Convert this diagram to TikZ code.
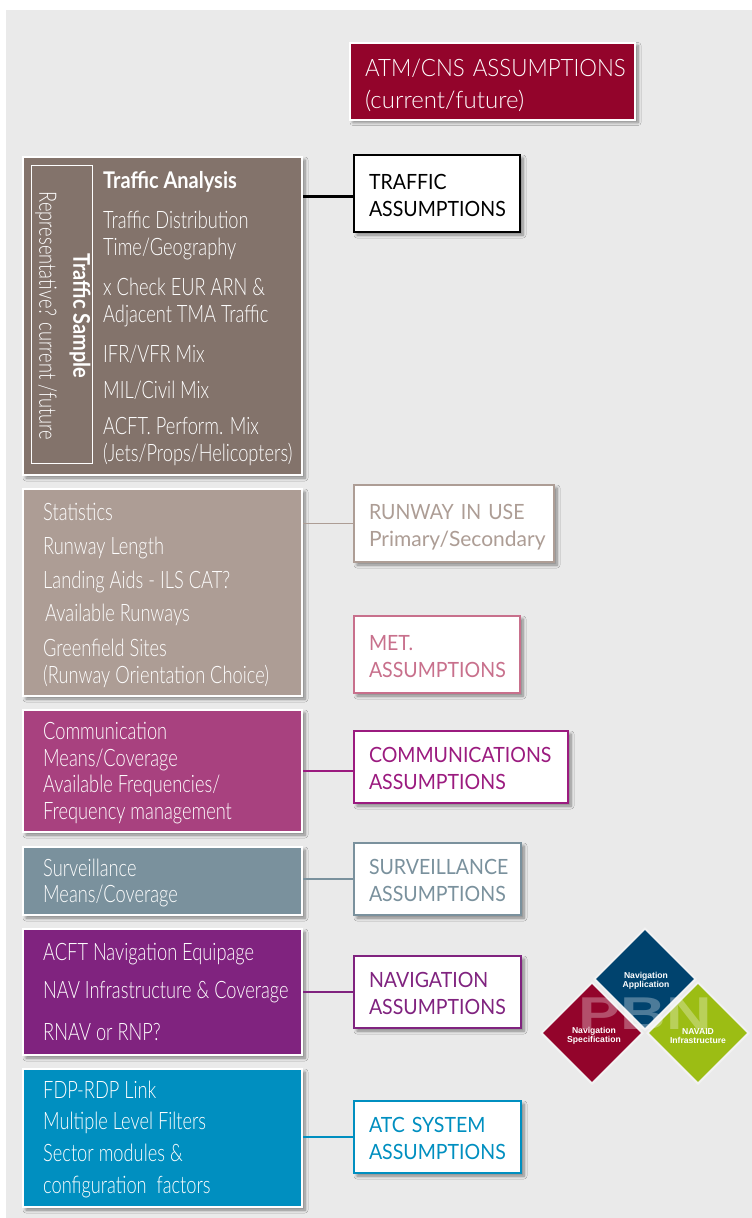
\documentclass[tikz,border=0pt]{standalone}
\usepackage{fontspec}
\setmainfont{Lato}
\newfontfamily\condfont[FakeStretch=0.76]{Lato Light}
\newfontfamily\boldfont[FakeStretch=0.87]{Lato}
\newfontfamily\boxfont[FakeStretch=0.93,WordSpace=0.7]{Lato}
\newfontfamily\headfont[FakeStretch=0.93,WordSpace=0.8]{Lato Light}
\newfontfamily\lowerfont{Lato}
\newfontfamily\lightfont{Lato Light}
\newfontfamily\labelfont{Liberation Sans}
\usetikzlibrary{shapes.geometric,shadows.blur}
\hyphenpenalty=10000
\definecolor{atmred}{HTML}{93042B}
\definecolor{brownbox}{HTML}{83736B}
\definecolor{sandbox}{HTML}{AD9D95}
\definecolor{metpink}{HTML}{C8708C}
\definecolor{commpink}{HTML}{A8417F}
\definecolor{commline}{HTML}{9B1B7F}
\definecolor{survgray}{HTML}{7A919D}
\definecolor{navpurple}{HTML}{80237F}
\definecolor{atcblue}{HTML}{008FC0}
\definecolor{appblue}{HTML}{00436E}
\definecolor{infragreen}{HTML}{9CBD14}
\definecolor{pagegray}{HTML}{EAEAEA}
\tikzset{
  softshadow/.style={blur shadow={shadow xshift=3pt,shadow yshift=-3pt,shadow blur steps=6,shadow opacity=45,shadow blur radius=3pt}},
  areabox/.style={rectangle,draw=white,line width=2pt,fill=#1,anchor=north west,inner sep=0pt,softshadow},
  assumbox/.style={rectangle,draw=#1,text=#1,line width=2pt,fill=white,anchor=north west,inner xsep=15pt,inner ysep=0pt,align=left,softshadow,
    text height=18pt,text depth=27pt,font={\boxfont\fontsize{21}{27}\selectfont}},
  linetext/.style={anchor=base west,inner sep=0pt,text=white,font={\condfont\fontsize{24}{27}\selectfont}},
  headtext/.style={anchor=base west,inner sep=0pt,text=white,font={\boldfont\bfseries\fontsize{23}{27}\selectfont}},
  link/.style={line width=1.8pt},
  rhomb/.style={diamond,aspect=1,inner sep=0pt,minimum width=102pt,minimum height=102pt,draw=white!90!gray,line width=2pt,fill=#1},
  rhombtext/.style={align=center,inner sep=0pt,text=white,font={\labelfont\bfseries\fontsize{8.6}{9.5}\selectfont}},
}
\begin{document}
\begin{tikzpicture}[x=1pt,y=-1pt]
  \useasboundingbox (0,0) rectangle (752,1218);
  \fill[white] (0,0) rectangle (752,1218);
  \fill[pagegray] (6,10) rectangle (752,1218);

  \node[areabox=atmred,minimum height=77pt,text=white,inner xsep=15pt,align=left,text width=255pt,
    text height=22pt,text depth=32pt,font={\headfont\fontsize{24}{32}\selectfont}] (atm) at (349,41.5)
    {ATM/CNS~ASSUMPTIONS\\{\lightfont (current/future)}};

  % left column
  \node[areabox=brownbox,minimum width=279pt,minimum height=318pt] (traffic) at (22,156) {};
  \node[areabox=sandbox,minimum width=279pt,minimum height=207pt] (runway) at (22,488) {};
  \node[areabox=commpink,minimum width=279pt,minimum height=122pt] (comm) at (22,709) {};
  \node[areabox=survgray,minimum width=279pt,minimum height=68pt] (surv) at (22,846) {};
  \node[areabox=navpurple,minimum width=279pt,minimum height=126pt] (nav) at (22,928) {};
  \node[areabox=atcblue,minimum width=279pt,minimum height=138pt] (atc) at (22,1068) {};

  \draw[white,line width=.8pt] (31,165) rectangle (92,463);
  \node[headtext,anchor=center,rotate=-90] (sample) at (80,316) {Traffic Sample};
  \node[linetext,anchor=center,rotate=-90] (representative) at (46,316) {Representative? current /future};

  \node[headtext] (analysis) at (103,188) {Traffic Analysis};
  \foreach \y/\txt in {228/Traffic Distribution,255/{Time/Geography},295/x Check EUR ARN \&,322/Adjacent TMA Traffic,
      362/{IFR/VFR Mix},398/{MIL/Civil Mix},434/ACFT. Perform. Mix,461/{(Jets/Props/Helicopters)}}
    \node[linetext] (trafficline\y) at (103,\y) {\txt};

  \foreach \x/\y/\txt in {43/520/Statistics,43/554/Runway Length,43/588/Landing Aids - ILS CAT?,45/621/Available Runways,
      43/656/Greenfield Sites,43/683/(Runway Orientation Choice)}
    \node[linetext] (runwayline\y) at (\x,\y) {\txt};

  \foreach \y/\txt in {739/Communication,766/{Means/Coverage},792/{Available Frequencies/},819/Frequency management,
      876/Surveillance,902/{Means/Coverage},
      960/ACFT Navigation Equipage,998/NAV Infrastructure \& Coverage,1040/RNAV or RNP?,
      1098/FDP-RDP Link,1129/Multiple Level Filters,1161/Sector modules \&,1193/configuration\ \ factors}
    \node[linetext] (line\y) at (43,\y) {\txt};

  % right column
  \node[assumbox=black,text width=136pt,minimum height=77pt] (trafficas) at (353,154) {TRAFFIC\\ASSUMPTIONS};
  \node[assumbox=sandbox,text width=170pt,minimum height=77pt] (runwayas) at (353,484) {RUNWAY IN USE\\{\lowerfont Primary/Secondary}};
  \node[assumbox=metpink,text width=136pt,minimum height=77pt] (metas) at (353,615) {MET.\\ASSUMPTIONS};
  \node[assumbox=commline,text width=184pt,minimum height=72pt] (commas) at (353,730) {COMMUNICATIONS\\ASSUMPTIONS};
  \node[assumbox=survgray,text width=137pt,minimum height=72pt] (survas) at (353,842) {SURVEILLANCE\\ASSUMPTIONS};
  \node[assumbox=navpurple,text width=137pt,minimum height=72pt] (navas) at (353,955) {NAVIGATION\\ASSUMPTIONS};
  \node[assumbox=atcblue,text width=137pt,minimum height=72pt] (atcas) at (353,1100) {ATC SYSTEM\\ASSUMPTIONS};

  \draw[link,black,line width=2.2pt] ([yshift=-3pt]trafficas.west -| traffic.east) -- ([yshift=-3pt]trafficas.west);
  \draw[link,sandbox] (runwayas.west -| runway.east) -- (runwayas.west);
  \draw[link,commline] ([yshift=-4pt]commas.west -| comm.east) -- ([yshift=-4pt]commas.west);
  \draw[link,survgray] (survas.west -| surv.east) -- (survas.west);
  \draw[link,navpurple] (navas.west -| nav.east) -- (navas.west);
  \draw[link,atcblue] (atcas.west -| atc.east) -- (atcas.west);

  % PBN diamonds
  \node[rhomb=appblue] (app) at (645,979) {};
  \node[rhomb=atmred] (spec) at (592,1033) {};
  \node[rhomb=infragreen] (infra) at (698,1033) {};
  \node[text=white,opacity=.3,inner sep=0pt,xscale=1.37,transform shape,font={\labelfont\bfseries\fontsize{46}{46}\selectfont}] (pbn) at (645,1014) {PBN};
  \node[rhombtext] (applabel) at (646,981) {Navigation\\Application};
  \node[rhombtext] (speclabel) at (594,1036) {Navigation\\Specification};
  \node[rhombtext] (infralabel) at (698,1036) {NAVAID\\Infrastructure};
\end{tikzpicture}
\end{document}
